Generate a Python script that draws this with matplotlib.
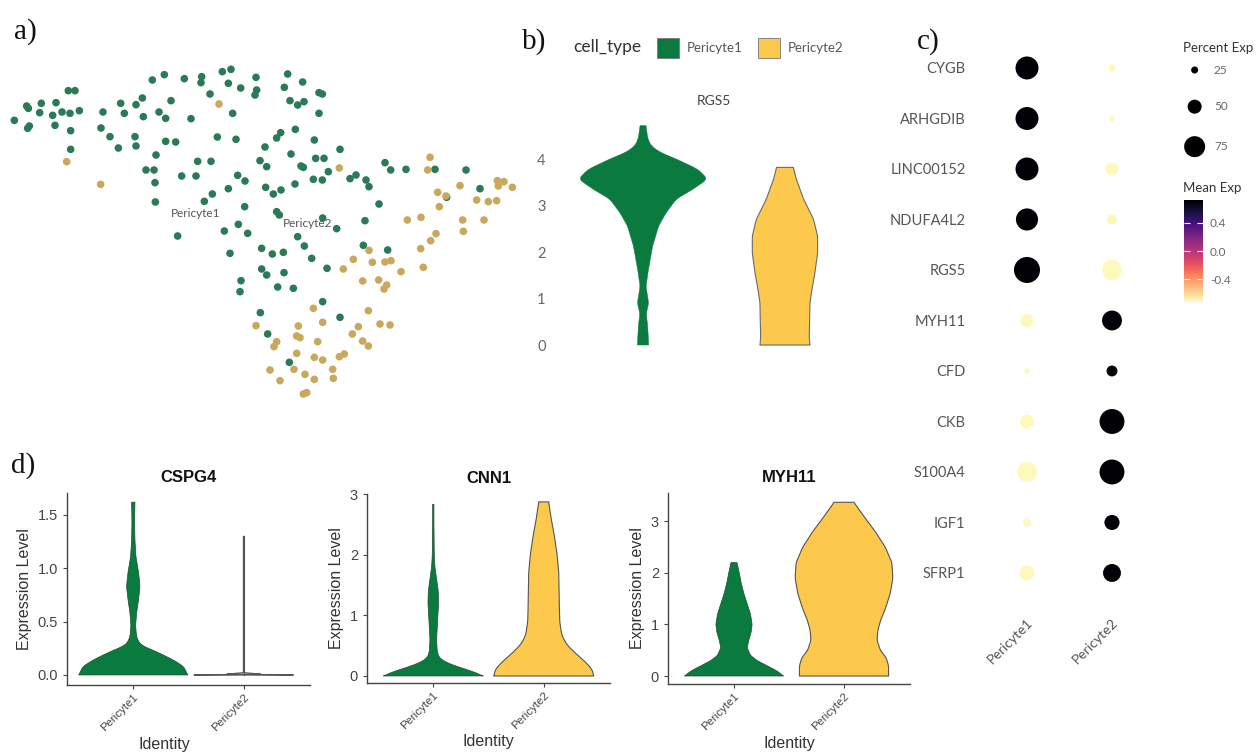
import numpy as np
import matplotlib
matplotlib.use("Agg")
import matplotlib.pyplot as plt
from matplotlib.patches import Rectangle
from matplotlib.cm import ScalarMappable
from matplotlib.colors import Normalize

# ---------------- data ----------------
# panel a: embedding coordinates (estimated)
p1_x = [693,667,493,457,553,605,603,768,863,908,685,722,853,770,765,630,205,225,957,967,427,513,870,893,912,
        362,408,80,85,124,168,119,158,186,210,238,309,373,477,430,497,573,698,957,43,83,88,165,212,303,330,405,
        886,842,830,652,708,497,527,355,408,943,212,795,1020,468,873,780,800,593,633,947,972,903,910,438,462,985,
        1155,1172,1218,1305,1398,545,588,713,735,940,967,885,1050,1068,1098,1107,465,685,797,820,843,1440,1340,
        637,613,466,734,830,838,1137,968,1010,1095,715,673,743,533,893,913,785,817,850,690,935,981,1090,1163,785,
        800,852,723,720,833,880,968,781,1020,803,868]
p1_y = [28,35,44,60,56,50,68,52,42,66,70,84,82,90,105,102,92,92,98,102,114,122,122,135,125,
        130,134,138,145,130,128,158,166,156,160,152,156,160,156,170,175,176,160,160,181,205,198,196,212,204,230,230,
        208,218,234,231,238,244,246,264,258,240,268,261,268,285,282,302,320,304,304,295,295,318,322,330,330,335,
        308,330,328,328,330,348,348,346,363,358,360,372,356,345,360,380,368,386,382,402,390,386,412,
        402,424,426,440,455,465,432,474,506,482,493,513,520,528,530,558,565,582,577,580,595,625,556,570,627,
        645,638,662,695,681,685,725,758,772,822,907]
p2_x = [657,200,302,1018,1290,1283,1313,1338,1380,1492,1512,1495,1537,1430,1465,1490,1318,1222,1263,1388,1452,
        1390,1308,1292,1262,1270,1203,1107,1060,1117,1155,1173,1030,1088,1136,1160,1152,940,1105,768,895,968,
        1075,1140,1170,890,900,953,1057,1088,1105,830,822,890,943,968,1018,1033,810,882,915,943,998,1000,840,
        910,920]
p2_y = [132,305,373,324,292,330,397,408,377,362,365,378,382,420,425,422,440,480,472,480,480,
        514,521,542,566,622,635,571,598,607,606,602,627,663,660,675,687,745,752,797,798,787,
        800,792,795,828,833,845,822,843,858,845,860,880,892,900,890,882,930,928,943,958,928,955,962,
        1002,998]

# panel b: RGS5 violin profiles (expression level, half-width)
rgs5_p1_y = [0, .40, .68, .90, 1.26, 1.62, 2.13, 2.56, 2.85, 3.14, 3.35, 3.57, 3.78, 4.0, 4.15, 4.29, 4.45, 4.72]
rgs5_p1_w = [0.040, 0.033, 0.023, 0.040, 0.021, 0.038, 0.068, 0.110, 0.164, 0.235, 0.352, 0.455, 0.387, 0.235,
             0.117, 0.056, 0.033, 0.021]
rgs5_p2_y = [0, 0.18, 0.54, 0.90, 1.19, 1.55, 1.98, 2.34, 2.70, 3.14, 3.57, 3.82]
rgs5_p2_w = [0.176, 0.171, 0.174, 0.176, 0.190, 0.211, 0.230, 0.230, 0.202, 0.131, 0.080, 0.059]

# panel c: dot plot
genes = ["CYGB", "ARHGDIB", "LINC00152", "NDUFA4L2", "RGS5", "MYH11", "CFD", "CKB", "S100A4", "IGF1", "SFRP1"]
groups = ["Pericyte1", "Pericyte2"]
pct_p1 = [82, 82, 82, 79, 93, 46, 18, 50, 71, 29, 54]
pct_p2 = [25, 21, 46, 36, 71, 71, 39, 89, 89, 54, 64]
avg_p1 = [0.707, 0.707, 0.707, 0.707, 0.707, -0.707, -0.707, -0.707, -0.707, -0.707, -0.707]
avg_p2 = [-0.707, -0.707, -0.707, -0.707, -0.707, 0.707, 0.707, 0.707, 0.707, 0.707, 0.707]
size_legend = [25, 50, 75]
cbar_ticks = [-0.4, 0.0, 0.4]

# panel d: violin profiles
cspg4_p1_y = [0, 0.08, 0.14, 0.21, 0.27, 0.30, 0.36, 0.46, 0.58, 0.71, 0.83, 0.96, 1.11, 1.27, 1.43, 1.62]
cspg4_p1_w = [0.494, 0.455, 0.364, 0.227, 0.091, 0.055, 0.030, 0.021, 0.030, 0.048, 0.061, 0.048, 0.024, 0.015,
              0.012, 0.015]
cspg4_p2_y = [0, 0.004, 1.3]
cspg4_p2_w = [0.45, 0.003, 0.003]
cnn1_p1_y = [0, 0.07, 0.14, 0.22, 0.3, 0.4, 0.6, 0.8, 1.0, 1.2, 1.4, 1.6, 1.8, 2.0, 2.5, 2.83]
cnn1_p1_w = [0.452, 0.364, 0.242, 0.121, 0.055, 0.036, 0.030, 0.036, 0.042, 0.048, 0.045, 0.030, 0.015, 0.009,
             0.006, 0.006]
cnn1_p2_y = [0, 0.1, 0.2, 0.3, 0.4, 0.5, 0.6, 0.7, 0.9, 1.1, 1.4, 1.7, 2.0, 2.3, 2.6, 2.87]
cnn1_p2_w = [0.452, 0.439, 0.394, 0.333, 0.273, 0.218, 0.182, 0.161, 0.145, 0.142, 0.139, 0.136, 0.121, 0.097,
             0.067, 0.045]
myh11_p1_y = [0, 0.1, 0.2, 0.3, 0.4, 0.55, 0.7, 0.85, 1.0, 1.2, 1.4, 1.6, 1.8, 2.0, 2.2]
myh11_p1_w = [0.45, 0.39, 0.30, 0.21, 0.15, 0.12, 0.135, 0.156, 0.165, 0.15, 0.12, 0.09, 0.066, 0.048, 0.027]
myh11_p2_y = [0, 0.2, 0.35, 0.5, 0.7, 0.9, 1.1, 1.3, 1.6, 1.9, 2.2, 2.5, 2.8, 3.1, 3.37]
myh11_p2_w = [0.405, 0.405, 0.384, 0.33, 0.30, 0.309, 0.336, 0.375, 0.42, 0.444, 0.435, 0.375, 0.285, 0.18, 0.09]

# ---------------- style ----------------
W, H = 1258, 754
fig = plt.figure(figsize=(W / 100, H / 100), dpi=100)
GREEN_A, GOLD_A = "#2b7a57", "#c9a85c"
GREEN, YELLOW = "#0b7a3e", "#fdc94c"
LATO = ["Lato", "DejaVu Sans"]
ARIAL = ["Liberation Sans", "DejaVu Sans"]
SERIF = ["Liberation Serif", "DejaVu Serif"]


def rect(l, t, r, b):
    return [l / W, 1 - b / H, (r - l) / W, (b - t) / H]


def violin(ax, x, ys, ws, color, edge=None, lw=0.8):
    ys = np.asarray(ys, float)
    ws = np.asarray(ws, float)
    yy = np.linspace(ys[0], ys[-1], 300)
    ww = np.interp(yy, ys, ws)
    k = np.ones(9) / 9
    ww_s = np.convolve(np.pad(ww, 4, mode="edge"), k, mode="valid")
    ww_s[:2] = ww[:2]
    ww_s[-2:] = ww[-2:]
    xs = np.concatenate([x - ww_s, (x + ww_s)[::-1]])
    yv = np.concatenate([yy, yy[::-1]])
    ax.fill(xs, yv, facecolor=color, edgecolor=edge if edge else color, linewidth=lw if edge else 0.3,
            joinstyle="round")


# panel letters
for lab, (px, py) in {"a)": (14, 32), "b)": (522, 42), "c)": (917, 42), "d)": (11, 466)}.items():
    fig.text(px / W, 1 - py / H, lab, fontsize=21, family=SERIF, va="center", ha="left", color="#111")

# ---------------- panel a ----------------
ax_a = fig.add_axes(rect(0, 60, 530, 410))
ax_a.scatter(p1_x, p1_y, s=30, color=GREEN_A, edgecolors="none")
ax_a.scatter(p2_x, p2_y, s=30, color=GOLD_A, edgecolors="none")
ax_a.set_xlim(0, 1590)
ax_a.set_ylim(1050, 0)
ax_a.axis("off")
ax_a.text(np.mean([510, 665]), 462, "Pericyte1", fontsize=8.5, family=LATO, color="#555", ha="center", va="center")
ax_a.text(np.mean([845, 1000]), 492, "Pericyte2", fontsize=8.5, family=LATO, color="#555", ha="center", va="center")

# ---------------- panel b ----------------
ax_b = fig.add_axes(rect(565, 117.2, 863, 354.3))
violin(ax_b, 1, rgs5_p1_y, rgs5_p1_w, GREEN)
violin(ax_b, 2, rgs5_p2_y, rgs5_p2_w, YELLOW, edge="#6b6b6b", lw=0.8)
ax_b.set_xlim(0.45, 2.55)
ax_b.set_ylim(-0.2, 4.9)
for s in ax_b.spines.values():
    s.set_visible(False)
ax_b.set_xticks([])
ax_b.set_yticks([0, 1, 2, 3, 4])
ax_b.tick_params(axis="y", length=0, pad=14, labelsize=10.5, labelcolor="#666")
for t in ax_b.get_yticklabels():
    t.set_family(LATO)
ax_b.set_title("RGS5", fontsize=10, family=LATO, color="#444", pad=9)

# legend for b
fig.text(573 / W, 1 - 47 / H, "cell_type", fontsize=12.5, family=LATO, color="#333", va="center", ha="left")
for i, (col, name) in enumerate([(GREEN, "Pericyte1"), (YELLOW, "Pericyte2")]):
    x0 = 657 + i * 101
    fig.patches.append(Rectangle((x0 / W, 1 - 58 / H), 22 / W, 20 / H, transform=fig.transFigure,
                                 facecolor=col, edgecolor="#777", linewidth=0.6))
    fig.text((x0 + 30) / W, 1 - 48 / H, name, fontsize=9.5, family=LATO, color="#555", va="center", ha="left")

# ---------------- panel c ----------------
ax_c = fig.add_axes(rect(985, 40, 1155, 600))
rows = np.arange(1, len(genes) + 1)
cmap = plt.get_cmap("magma_r")
norm = Normalize(-0.72, 0.72)


def size_of(p):
    return (0.28 * np.asarray(p, float) * 0.72) ** 2


for gi, (pcts, avgs) in enumerate([(pct_p1, avg_p1), (pct_p2, avg_p2)]):
    ax_c.scatter(np.full(len(genes), gi + 1), rows, s=size_of(pcts), c=avgs, cmap=cmap, norm=norm,
                 edgecolors="none")
ax_c.set_xlim(0.506, 2.506)
ax_c.set_ylim(11.535, 0.446)
for s in ax_c.spines.values():
    s.set_visible(False)
ax_c.set_yticks(rows)
ax_c.set_yticklabels(genes, family=LATO, fontsize=10.5, color="#555")
ax_c.set_xticks([1, 2])
ax_c.set_xticklabels(groups, family=LATO, fontsize=10, color="#555", rotation=45, ha="right",
                     rotation_mode="anchor")
ax_c.tick_params(length=0)
ax_c.tick_params(axis="y", pad=14)
ax_c.tick_params(axis="x", pad=12)

# size legend
fig.text(1183 / W, 1 - 48 / H, "Percent Exp", fontsize=9.5, family=LATO, color="#333", va="center")
ax_l = fig.add_axes(rect(1170, 60, 1258, 160))
ax_l.set_xlim(0, 1)
ax_l.set_ylim(3.5, 0.5)
leg_rows = np.arange(1, 4) + np.array([-0.2, -0.1, 0.1])
ax_l.scatter(np.full(3, 0.28), leg_rows, s=size_of(size_legend), color="black", edgecolors="none")
for yv, v in zip(leg_rows, size_legend):
    ax_l.text(0.5, yv, str(v), fontsize=8.5, family=LATO, color="#666", va="center")
ax_l.axis("off")

# colorbar
fig.text(1183 / W, 1 - 188 / H, "Mean Exp", fontsize=9.5, family=LATO, color="#333", va="center")
cax = fig.add_axes(rect(1184, 200, 1203, 302))
cb = fig.colorbar(ScalarMappable(norm=norm, cmap=cmap), cax=cax, ticks=cbar_ticks)
cb.outline.set_visible(False)
cax.yaxis.set_ticks_position("both")
cax.tick_params(axis="y", which="both", direction="in", length=4, width=0.8, color="white",
                labelsize=8.5, labelcolor="#666", pad=5, labelleft=False, labelright=True)
cax.set_yticklabels([f"{v:.1f}" for v in cbar_ticks], family=LATO)

# ---------------- panel d ----------------
d_specs = [
    ("CSPG4", rect(67, 493, 310, 685), (-0.094, 1.706), [0.0, 0.5, 1.0, 1.5], "{:.1f}",
     (cspg4_p1_y, cspg4_p1_w), (cspg4_p2_y, cspg4_p2_w), 0.40),
    ("CNN1", rect(367, 494, 610, 683), (-0.116, 3.0), [0, 1, 2, 3], "{:d}",
     (cnn1_p1_y, cnn1_p1_w), (cnn1_p2_y, cnn1_p2_w), 0.5),
    ("MYH11", rect(668, 493, 910, 684), (-0.155, 3.55), [0, 1, 2, 3], "{:d}",
     (myh11_p1_y, myh11_p1_w), (myh11_p2_y, myh11_p2_w), 0.5),
]
for title, pos, ylim, yt, fmt, v1, v2, xlab_pos in d_specs:
    ax = fig.add_axes(pos)
    violin(ax, 1, v1[0], v1[1], GREEN, edge="#1f4d33", lw=0.5)
    violin(ax, 2, v2[0], v2[1], YELLOW, edge="#555", lw=0.8)
    if title == "CSPG4":
        ax.plot([2, 2], [0, 1.3], color="#555", lw=0.8)
    ax.set_xlim(0.4, 2.6)
    ax.set_ylim(*ylim)
    ax.spines["top"].set_visible(False)
    ax.spines["right"].set_visible(False)
    for s in ("left", "bottom"):
        ax.spines[s].set_color("#444")
        ax.spines[s].set_linewidth(1.0)
    ax.set_yticks(yt)
    ax.set_yticklabels([fmt.format(v) for v in yt], family=ARIAL, fontsize=10.5, color="#444")
    ax.set_xticks([1, 2])
    ax.set_xticklabels(groups, family=ARIAL, fontsize=8.2, color="#444", rotation=45, ha="right",
                       rotation_mode="anchor")
    ax.tick_params(length=3, color="#444", width=0.8)
    ax.tick_params(axis="x", pad=2)
    ax.set_title(title, fontsize=12, family=ARIAL, fontweight="bold", color="#111", pad=8)
    ax.set_ylabel("Expression Level", family=ARIAL, fontsize=11.5, color="#333", labelpad=4)
    ax.set_xlabel("Identity", family=ARIAL, fontsize=11.5, color="#333")
    ax.xaxis.set_label_coords(xlab_pos, -0.27)

fig.savefig("out.png", dpi=100)
